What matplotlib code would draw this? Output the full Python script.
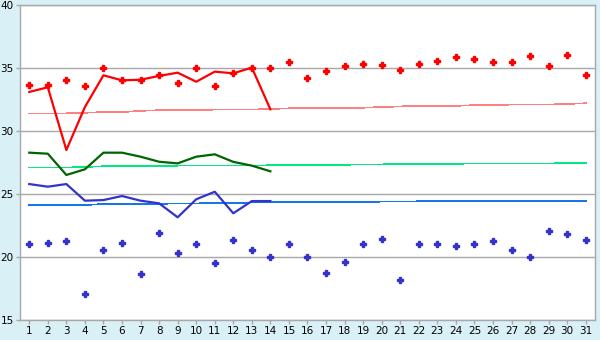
import matplotlib
matplotlib.use("Agg")
import matplotlib.pyplot as plt

days = list(range(1, 32))

# red: daily points, running line (days 1-14), trend
red_pts = [33.63, 33.67, 34.02, 33.55, 34.97, 34.02, 34.05, 34.44, 33.78, 34.97,
           33.55, 34.58, 34.97, 35.0, 35.45, 34.18, 34.74, 35.13, 35.32, 35.21,
           34.82, 35.29, 35.53, 35.85, 35.69, 35.45, 35.45, 35.93, 35.13, 36.0, 34.42]
red_line = [33.1, 33.47, 28.49, 31.9, 34.42, 34.02, 34.07, 34.37, 34.63, 33.91,
            34.71, 34.58, 35.03, 31.72]
red_trend = [31.4, 31.4, 31.4, 31.45, 31.5, 31.5, 31.6, 31.65, 31.65, 31.65,
             31.7, 31.7, 31.7, 31.75, 31.8, 31.8, 31.8, 31.85, 31.85, 31.9,
             31.95, 32.0, 32.0, 32.0, 32.05, 32.05, 32.1, 32.1, 32.1, 32.15, 32.2]

# green: running line (days 1-14), trend
green_line = [28.28, 28.2, 26.51, 26.96, 28.28, 28.28, 27.96, 27.56, 27.43, 27.96,
              28.15, 27.55, 27.25, 26.8]
green_trend = [27.1, 27.1, 27.1, 27.15, 27.2, 27.2, 27.2, 27.22, 27.25, 27.25,
               27.25, 27.25, 27.25, 27.28, 27.3, 27.3, 27.3, 27.32, 27.35, 27.35,
               27.38, 27.4, 27.4, 27.4, 27.42, 27.42, 27.43, 27.43, 27.43, 27.44, 27.45]

# blue: daily points, running line (days 1-14), trend
blue_pts = [21.01, 21.09, 21.25, 17.04, 20.53, 21.09, 18.63, 21.88, 20.29, 21.01,
            19.5, 21.32, 20.53, 19.98, 21.01, 20.0, 18.71, 19.58, 21.01, 21.4,
            18.15, 21.01, 21.01, 20.85, 21.01, 21.25, 20.53, 20.0, 22.04, 21.8, 21.32]
blue_line = [25.79, 25.58, 25.79, 24.47, 24.52, 24.84, 24.47, 24.26, 23.15, 24.58,
             25.18, 23.47, 24.44, 24.44]
blue_trend = [24.13, 24.13, 24.13, 24.13, 24.2, 24.2, 24.2, 24.22, 24.25, 24.25,
              24.3, 24.3, 24.32, 24.34, 24.34, 24.34, 24.34, 24.34, 24.34, 24.4,
              24.4, 24.42, 24.42, 24.42, 24.43, 24.43, 24.44, 24.44, 24.44, 24.44, 24.44]

bg = '#D9F0F7'
fig = plt.figure(figsize=(6, 3.4), dpi=100, facecolor=bg)
ax = fig.add_axes([0.0333, 0.0588, 0.9584, 0.9265])
ax.set_facecolor('white')

ax.set_xlim(0.5, 31.5)
ax.set_ylim(15, 40)
ax.set_yticks([15, 20, 25, 30, 35, 40])
ax.set_xticks(days)
ax.grid(axis='y', color='#A8A8A8', linewidth=1.0)
ax.set_axisbelow(True)
for s in ax.spines.values():
    s.set_color('#A8A8A8')
    s.set_linewidth(1.0)
ax.tick_params(colors='#A8A8A8', labelcolor='black', labelsize=7.5, length=3, width=1, pad=1.5)

ax.plot(days, red_trend, color='#FF8080', linewidth=0.5, antialiased=False)
ax.plot(days, green_trend, color='#00E880', linewidth=0.5, antialiased=False)
ax.plot(days, blue_trend, color='#1478E8', linewidth=0.5, antialiased=False)

ax.plot(days[:14], red_line, color='#FF0000', linewidth=1.6)
ax.plot(days[:14], green_line, color='#006400', linewidth=1.6)
ax.plot(days[:14], blue_line, color='#3333CC', linewidth=1.6)

ax.plot(days, red_pts, 'P', color='#FF0000', markersize=4, linestyle='none')
ax.plot(days, blue_pts, 'P', color='#3333CC', markersize=4, linestyle='none')

fig.savefig('out.png', dpi=100, facecolor=bg)
